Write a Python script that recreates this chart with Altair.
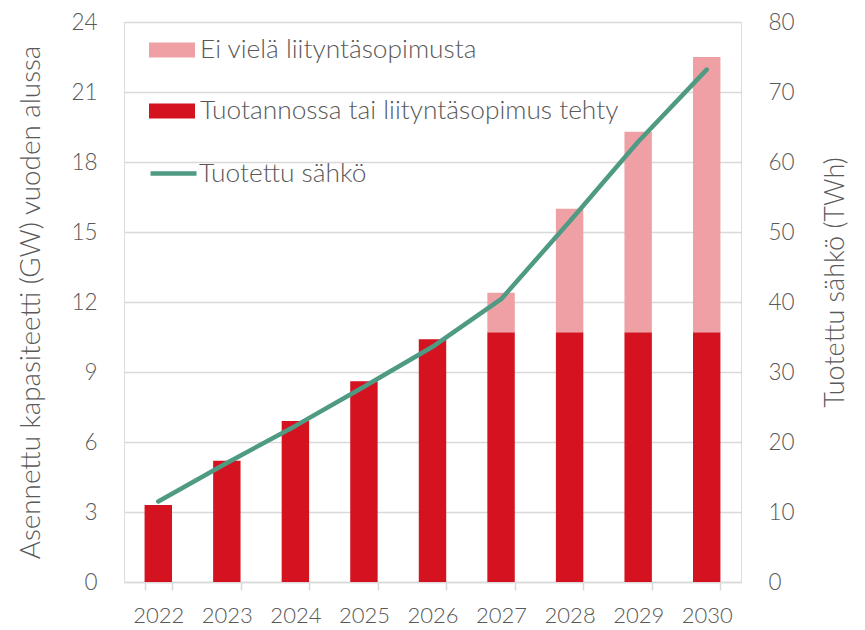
import altair as alt
import pandas as pd

years = ["2022", "2023", "2024", "2025", "2026", "2027", "2028", "2029", "2030"]
contracted = [3.3, 5.2, 6.9, 8.6, 10.4, 10.7, 10.7, 10.7, 10.7]
no_contract = [0.0, 0.0, 0.0, 0.0, 0.0, 1.7, 5.3, 8.6, 11.8]
energy_twh = [11.5, 17.0, 22.3, 27.9, 33.6, 40.4, 51.5, 62.9, 73.2]

lab_no = "Ei vielä liityntäsopimusta"
lab_yes = "Tuotannossa tai liityntäsopimus tehty"
lab_line = "Tuotettu sähkö"

RED = "#D51220"
PINK = "#EEA0A5"
GREEN = "#4E9A83"
GRID = "#D9D9D9"
TXT = "#595959"
FONT = "Lato"
W = 300

rows = []
for y, a, b in zip(years, contracted, no_contract):
    rows.append({"year": y, "series": lab_yes, "value": a, "ord": 0})
    rows.append({"year": y, "series": lab_no, "value": b, "ord": 1})
bars_df = pd.DataFrame(rows)
line_df = pd.DataFrame({"year": years, "energy": energy_twh, "label": lab_line})

xscale = alt.Scale(paddingInner=0.6, paddingOuter=0.3)
xaxis = alt.Axis(title=None, labelAngle=0, labelFontSize=22, labelColor=TXT, labelFont=FONT,
                 labelFontWeight=W,
                 domainColor=GRID, domainWidth=1.5, ticks=True, tickBand="extent",
                 tickSize=8, tickColor=GRID, tickWidth=1.5, labelPadding=15, grid=False)

bars = alt.Chart(bars_df).mark_bar().encode(
    x=alt.X("year:N", scale=xscale, axis=xaxis, sort=years),
    y=alt.Y("value:Q", stack="zero",
            scale=alt.Scale(domain=[0, 24], nice=False),
            axis=alt.Axis(values=[0, 3, 6, 9, 12, 15, 18, 21, 24], grid=True, gridColor=GRID,
                          gridWidth=1.5, domain=False, ticks=False, tickSize=0,
                          labelPadding=27, labelFontSize=22.5, labelColor=TXT, labelFont=FONT,
                          labelFontWeight=W,
                          title="Asennettu kapasiteetti (GW) vuoden alussa",
                          titleFont=FONT, titleFontSize=27.8, titleFontWeight=W,
                          titleColor=TXT, titleAngle=-90, titleX=-93, titleY=280,
                          titleAlign="center", titleBaseline="middle")),
    color=alt.Color("series:N", scale=alt.Scale(domain=[lab_no, lab_yes], range=[PINK, RED]),
                    legend=alt.Legend(title=None, orient="none", legendX=25, legendY=5,
                                      symbolType="M-1,-0.33H1V0.33H-1Z", symbolSize=2116,
                                      symbolStrokeWidth=0, symbolOpacity=1,
                                      labelFont=FONT, labelFontSize=26.3, labelColor=TXT,
                                      labelFontWeight=W,
                                      labelOffset=5, rowPadding=24, padding=0, labelLimit=600)),
    order=alt.Order("ord:Q"),
)

line = alt.Chart(line_df).mark_line(strokeWidth=4.5, strokeCap="round", strokeJoin="round").encode(
    x=alt.X("year:N", scale=xscale, axis=xaxis, sort=years),
    y=alt.Y("energy:Q", scale=alt.Scale(domain=[0, 80], nice=False),
            axis=alt.Axis(orient="right", values=[0, 10, 20, 30, 40, 50, 60, 70, 80], grid=False,
                          domain=False, ticks=False, tickSize=0, labelPadding=27,
                          labelFontSize=22.5, labelColor=TXT, labelFont=FONT, labelFontWeight=W,
                          title="Tuotettu sähkö (TWh)", titleFont=FONT, titleFontSize=27,
                          titleFontWeight=W, titleColor=TXT, titleAngle=-90,
                          titleX=94, titleY=260, titleAlign="center", titleBaseline="middle")),
    stroke=alt.Stroke("label:N", scale=alt.Scale(domain=[lab_line], range=[GREEN]),
                      legend=alt.Legend(title=None, orient="none", legendX=24, legendY=126,
                                        symbolType="stroke", symbolSize=2116, symbolStrokeWidth=4.5,
                                        labelFont=FONT, labelFontSize=26.3, labelColor=TXT,
                                        labelFontWeight=W,
                                        labelOffset=0, padding=0, labelLimit=600)),
)

chart = alt.layer(bars, line).resolve_scale(y="independent", color="independent").properties(
    width=617, height=560,
    autosize=alt.AutoSizeParams(type="none"),
    padding={"left": 116, "top": 14, "right": 116, "bottom": 48},
).configure_view(stroke=None).configure(background="white")

chart.save("out.html", embed_options={"renderer": "svg", "actions": False})
